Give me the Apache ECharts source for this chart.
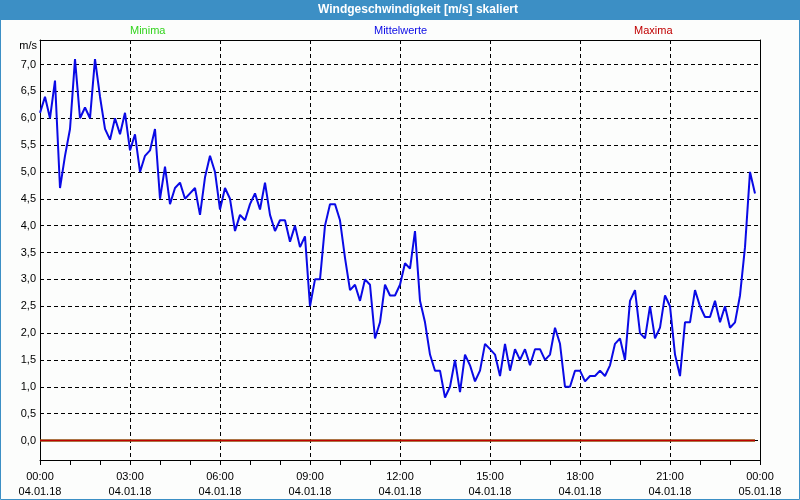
<!DOCTYPE html>
<html><head><meta charset="utf-8">
<script src="https://cdn.jsdelivr.net/npm/echarts@6/dist/echarts.min.js"></script>
<style>html,body{margin:0;padding:0;background:#fff}#c{width:800px;height:500px}</style>
</head><body><div id="c"></div>
<script>
// ---- data ----
const chartTitle = 'Windgeschwindigkeit [m/s] skaliert';
const unitLabel = 'm/s';
const day1 = '04.01.18';
const day2 = '05.01.18';
const seriesNames = ['Minima', 'Mittelwerte', 'Maxima'];
const yTickValues = [0, 0.5, 1, 1.5, 2, 2.5, 3, 3.5, 4, 4.5, 5, 5.5, 6, 6.5, 7];

// 10-minute time steps 04.01.18 00:00 ... 05.01.18 00:00
const timeCategories = [];
for (let h = 0; h < 24; h++) {
  for (let m = 0; m < 60; m += 10) {
    timeCategories.push((h < 10 ? '0' : '') + h + ':' + (m < 10 ? '0' : '') + m + '|' + day1);
  }
}
timeCategories.push('00:00|' + day2);

const mittelwerte = [
  6.1,6.4,6.0,6.7,4.7,5.3,5.8,7.1,6.0,6.2,
  6.0,7.1,6.4,5.8,5.6,6.0,5.7,6.1,5.4,5.7,
  5.0,5.3,5.4,5.8,4.5,5.1,4.4,4.7,4.8,4.5,
  4.6,4.7,4.2,4.9,5.3,5.0,4.3,4.7,4.5,3.9,
  4.2,4.1,4.4,4.6,4.3,4.8,4.2,3.9,4.1,4.1,
  3.7,4.0,3.6,3.8,2.5,3.0,3.0,4.0,4.4,4.4,
  4.1,3.4,2.8,2.9,2.6,3.0,2.9,1.9,2.2,2.9,
  2.7,2.7,2.9,3.3,3.2,3.9,2.6,2.2,1.6,1.3,
  1.3,0.8,1.0,1.5,0.9,1.6,1.4,1.1,1.3,1.8,
  1.7,1.6,1.2,1.8,1.3,1.7,1.5,1.7,1.4,1.7,
  1.7,1.5,1.6,2.1,1.8,1.0,1.0,1.3,1.3,1.1,
  1.2,1.2,1.3,1.2,1.4,1.8,1.9,1.5,2.6,2.8,
  2.0,1.9,2.5,1.9,2.1,2.7,2.5,1.6,1.2,2.2,
  2.2,2.8,2.5,2.3,2.3,2.6,2.2,2.5,2.1,2.2,
  2.7,3.6,5.0,4.6
];
const minima = [
  0,0,0,0,0,0,0,0,0,0, 0,0,0,0,0,0,0,0,0,0, 0,0,0,0,0,0,0,0,0,0,
  0,0,0,0,0,0,0,0,0,0, 0,0,0,0,0,0,0,0,0,0, 0,0,0,0,0,0,0,0,0,0,
  0,0,0,0,0,0,0,0,0,0, 0,0,0,0,0,0,0,0,0,0, 0,0,0,0,0,0,0,0,0,0,
  0,0,0,0,0,0,0,0,0,0, 0,0,0,0,0,0,0,0,0,0, 0,0,0,0,0,0,0,0,0,0,
  0,0,0,0,0,0,0,0,0,0, 0,0,0,0,0,0,0,0,0,0, 0,0,0,0
];
const maxima = [
  0,0,0,0,0,0,0,0,0,0, 0,0,0,0,0,0,0,0,0,0, 0,0,0,0,0,0,0,0,0,0,
  0,0,0,0,0,0,0,0,0,0, 0,0,0,0,0,0,0,0,0,0, 0,0,0,0,0,0,0,0,0,0,
  0,0,0,0,0,0,0,0,0,0, 0,0,0,0,0,0,0,0,0,0, 0,0,0,0,0,0,0,0,0,0,
  0,0,0,0,0,0,0,0,0,0, 0,0,0,0,0,0,0,0,0,0, 0,0,0,0,0,0,0,0,0,0,
  0,0,0,0,0,0,0,0,0,0, 0,0,0,0,0,0,0,0,0,0, 0,0,0,0
];

// ---- chart ----
const FONT = '"Liberation Sans", Arial, sans-serif';
const barBlue = '#3c8fc5';
const colMin = '#33d41e', colMit = '#0a0ae6', colMax = '#c00000';
const chart = echarts.init(document.getElementById('c'), null, {renderer: 'canvas'});

function mkLegend(name, color, left) {
  return {
    data: [name], left: left, top: 25, itemWidth: 0, itemHeight: 0, icon: 'rect',
    selectedMode: false, padding: 0,
    textStyle: {color: color, fontFamily: FONT, fontSize: 11, padding: 0}
  };
}

chart.setOption({
  animation: false,
  backgroundColor: '#fcfdfc',
  textStyle: {fontFamily: FONT},
  legend: [
    mkLegend(seriesNames[0], colMin, 125),
    mkLegend(seriesNames[1], colMit, 369),
    mkLegend(seriesNames[2], colMax, 629)
  ],
  graphic: [
    {type: 'rect', z: 0, shape: {x: 0, y: 0, width: 800, height: 20}, style: {fill: barBlue}},
    {type: 'rect', z: 0, shape: {x: 0.5, y: 0.5, width: 799, height: 499}, style: {fill: 'none', stroke: barBlue, lineWidth: 1}},
    {type: 'text', z: 10, x: 418, y: 10, style: {text: chartTitle, fill: '#ffffff', font: 'bold 12px ' + FONT, align: 'center', verticalAlign: 'middle'}},
    {type: 'text', z: 10, x: 37, y: 46, style: {text: unitLabel, fill: '#000000', font: '11px ' + FONT, align: 'right', verticalAlign: 'middle'}}
  ],
  grid: {left: 40, right: 40, top: 40, bottom: 40, containLabel: false},
  xAxis: [{
    type: 'category',
    data: timeCategories,
    boundaryGap: false,
    axisLine: {show: true, onZero: false, lineStyle: {color: '#000', width: 1}},
    axisTick: {show: true, length: 5, lineStyle: {color: '#000'}, interval: function (i) { return i % 6 === 0; }},
    axisLabel: {
      interval: function (i) { return i % 18 === 0; },
      formatter: function (v) { return v.replace('|', '\n'); },
      color: '#000', fontSize: 11, lineHeight: 15, margin: 9, fontFamily: FONT
    },
    splitLine: {show: true, interval: function (i) { return i % 18 === 0; }, lineStyle: {color: '#000', type: [4, 3], width: 1}}
  }, {
    type: 'category', position: 'top',
    data: timeCategories,
    boundaryGap: false,
    axisLine: {show: true, onZero: false, lineStyle: {color: '#000', width: 1}},
    axisTick: {show: false}, axisLabel: {show: false}, splitLine: {show: false}
  }],
  yAxis: [{
    type: 'value',
    min: -0.363, max: 7.456,
    axisLine: {show: true, onZero: false, lineStyle: {color: '#000', width: 1}},
    axisTick: {show: false, customValues: yTickValues},
    axisLabel: {
      customValues: yTickValues,
      formatter: function (v) { return v.toFixed(1).replace('.', ','); },
      color: '#000', fontSize: 11, margin: 4, fontFamily: FONT
    },
    splitLine: {show: true, lineStyle: {color: '#000', type: [4, 3], width: 1}}
  }, {
    type: 'value', position: 'right',
    min: -0.363, max: 7.456,
    axisLine: {show: true, onZero: false, lineStyle: {color: '#000', width: 1}},
    axisTick: {show: false}, axisLabel: {show: false}, splitLine: {show: false}
  }],
  series: [
    {name: seriesNames[0], type: 'line', data: minima, showSymbol: false, symbol: 'none',
     lineStyle: {color: colMin, width: 2}, itemStyle: {color: colMin}, z: 3},
    {name: seriesNames[2], type: 'line', data: maxima, showSymbol: false, symbol: 'none',
     lineStyle: {color: colMax, width: 2}, itemStyle: {color: colMax}, z: 4},
    {name: seriesNames[1], type: 'line', data: mittelwerte, showSymbol: false, symbol: 'none',
     lineStyle: {color: colMit, width: 2}, itemStyle: {color: colMit}, z: 5}
  ]
});
</script></body></html>
